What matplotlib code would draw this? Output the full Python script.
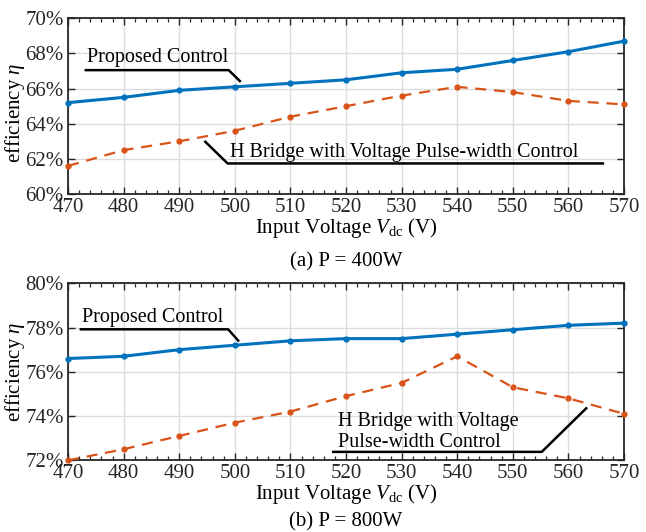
import matplotlib
matplotlib.use("Agg")
import matplotlib.pyplot as plt
from matplotlib.ticker import MultipleLocator, FuncFormatter

plt.rcParams['font.family'] = ['Liberation Serif', 'DejaVu Serif']
plt.rcParams['mathtext.fontset'] = 'custom'
plt.rcParams['mathtext.rm'] = 'Liberation Serif'
plt.rcParams['mathtext.it'] = 'Liberation Serif:italic'
plt.rcParams['mathtext.bf'] = 'Liberation Serif:bold'

# ---- data ----
voltage = [470, 480, 490, 500, 510, 520, 530, 540, 550, 560, 570]
eff_400_proposed = [65.2, 65.5, 65.9, 66.1, 66.3, 66.5, 66.9, 67.1, 67.6, 68.1, 68.7]
eff_400_hbridge = [61.6, 62.5, 63.0, 63.6, 64.4, 65.0, 65.6, 66.1, 65.8, 65.3, 65.1]
eff_800_proposed = [76.6, 76.7, 77.0, 77.2, 77.4, 77.5, 77.5, 77.7, 77.9, 78.1, 78.2]
eff_800_hbridge = [72.0, 72.5, 73.1, 73.7, 74.2, 74.9, 75.5, 76.7, 75.3, 74.8, 74.1]
ylim_400 = (60, 70)
ylim_800 = (72, 80)
captions = ["(a) P = 400W", "(b) P = 800W"]
label_proposed = "Proposed Control"
label_hbridge_a = "H Bridge with Voltage Pulse-width Control"
label_hbridge_b = "H Bridge with Voltage\nPulse-width Control"

BLUE = '#0072BD'
ORANGE = '#D95319'
AXC = '#262626'
FS = 15

fig = plt.figure(figsize=(6.46, 5.32), dpi=100)
ax1 = fig.add_axes([0.1053, 0.6353, 0.8607, 0.3303])
ax2 = fig.add_axes([0.1053, 0.1348, 0.8607, 0.3327])


def style(ax, ylim, ylab_y):
    ax.set_xlim(470, 570)
    ax.set_ylim(*ylim)
    ax.xaxis.set_major_locator(MultipleLocator(10))
    ax.xaxis.set_minor_locator(MultipleLocator(2))
    ax.yaxis.set_major_locator(MultipleLocator(2))
    ax.yaxis.set_major_formatter(FuncFormatter(lambda v, p: f"{v:.0f}%"))
    ax.grid(True, which='major', color='#dcdcdc', linewidth=1.0)
    ax.set_axisbelow(True)
    for s in ax.spines.values():
        s.set_color(AXC)
        s.set_linewidth(1.3)
    ax.tick_params(which='both', direction='in', top=True, right=True,
                   colors=AXC, labelsize=FS, labelcolor=AXC)
    ax.tick_params(which='major', length=5, width=1.0, pad=3)
    ax.tick_params(which='minor', length=3, width=0.9)
    ax.tick_params(axis='y', which='minor', left=False, right=False)
    ax.set_xlabel(r'Input Voltage $\mathit{V}_{\mathrm{dc}}$ (V)', fontsize=FS, color='black')
    ax.set_ylabel(r'efficiency $\mathit{\eta}$', fontsize=FS, color='black')
    ax.xaxis.set_label_coords(0.5, -0.125)
    ax.yaxis.set_label_coords(-0.074, ylab_y)


style(ax1, ylim_400, 0.46)
style(ax2, ylim_800, 0.5)

for ax, prop, hb in [(ax1, eff_400_proposed, eff_400_hbridge),
                     (ax2, eff_800_proposed, eff_800_hbridge)]:
    ax.plot(voltage, prop, color=BLUE, linewidth=2.2, marker='o', markersize=3.5,
            clip_on=False, zorder=4)
    ax.plot(voltage, hb, color=ORANGE, linewidth=1.6, linestyle=(0, (5, 3.5)),
            marker='o', markersize=3.5, clip_on=False, zorder=3)

# annotations (a)
ax1.plot([473.2, 498.9, 500.9], [67.05, 67.05, 66.43], color='black', linewidth=1.8, zorder=5)
ax1.text(473.4, 67.5, label_proposed, fontsize=FS - 0.5, color='black', va='baseline', ha='left')
ax1.plot([494.7, 498.7, 566.2], [62.97, 61.74, 61.74], color='black', linewidth=1.8, zorder=5)
ax1.text(499.1, 62.11, label_hbridge_a, fontsize=FS - 0.5, color='black', va='baseline', ha='left')

# annotations (b)
ax2.plot([472.3, 498.8, 500.6], [77.92, 77.92, 77.41], color='black', linewidth=1.8, zorder=5)
ax2.text(472.6, 78.25, label_proposed, fontsize=FS - 0.5, color='black', va='baseline', ha='left')
ax2.plot([517.7, 555.2, 563.2], [72.38, 72.38, 74.35], color='black', linewidth=1.8, zorder=5)
ax2.text(518.5, 72.58, label_hbridge_b, fontsize=FS - 0.5, color='black', va='baseline', ha='left',
         linespacing=1.15)

fig.text(0.5356, 1 - 262 / 532, captions[0], fontsize=FS, ha='center', va='center')
fig.text(0.5356, 1 - 521.7 / 532, captions[1], fontsize=FS, ha='center', va='center')

fig.savefig('out.png', dpi=100)
